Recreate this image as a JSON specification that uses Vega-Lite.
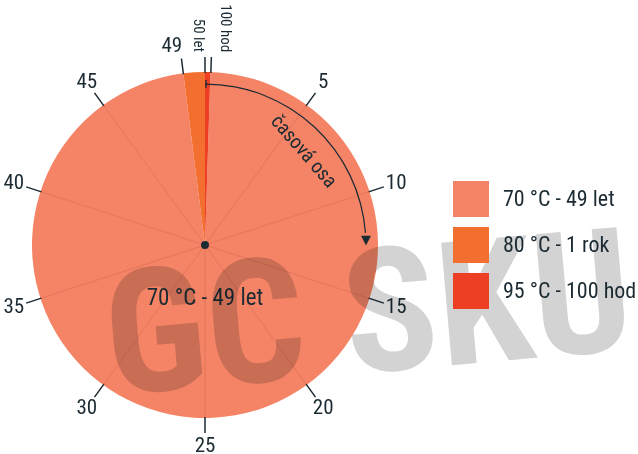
{
  "$schema": "https://vega.github.io/schema/vega-lite/v6.json",
  "width": 410,
  "height": 490,
  "padding": {"left": 0, "top": 0, "right": 228, "bottom": 0},
  "autosize": {"type": "none"},
  "background": "white",
  "config": {
    "view": {"stroke": null},
    "font": "Roboto Condensed, Liberation Sans Narrow, Roboto, sans-serif",
    "text": {"font": "Roboto Condensed, Liberation Sans Narrow, Roboto, sans-serif", "color": "#1c2b33"}
  },
  "layer": [
    {
      "data": {"values": [
        {"cat": "70 °C - 49 let", "start": 0.25, "end": 49},
        {"cat": "80 °C - 1 rok", "start": 49, "end": 50},
        {"cat": "95 °C - 100 hod", "start": 0, "end": 0.25}
      ]},
      "mark": {"type": "arc", "radius": 173},
      "encoding": {
        "theta": {"field": "start", "type": "quantitative", "stack": null, "scale": {"domain": [0, 50], "range": [0, 6.283185307]}},
        "theta2": {"field": "end"},
        "color": {
          "field": "cat", "type": "nominal",
          "scale": {"domain": ["70 °C - 49 let", "80 °C - 1 rok", "95 °C - 100 hod"], "range": ["#f58466", "#f26f30", "#ee3e23"]},
          "legend": {
            "title": null, "orient": "none", "legendX": 453, "legendY": 181,
            "symbolType": "square", "symbolSize": 1296, "symbolStrokeWidth": 0, "symbolOpacity": 1,
            "labelFontSize": 22, "labelFont": "Roboto Condensed, Liberation Sans Narrow, Roboto, sans-serif",
            "labelColor": "#1c2b33", "labelOffset": 14, "labelLimit": 300, "rowPadding": 10, "padding": 0, "zindex": -1
          }
        }
      }
    },
    {
      "data": {"values": [
        {"v": 5}, {"v": 10}, {"v": 15}, {"v": 20}, {"v": 25}, {"v": 30}, {"v": 35}, {"v": 40}, {"v": 45}
      ]},
      "mark": {"type": "arc", "radius": 172, "radius2": 0, "fillOpacity": 0, "stroke": "#c8644c", "strokeWidth": 0.5, "strokeOpacity": 0.45},
      "encoding": {
        "theta": {"field": "v", "type": "quantitative", "stack": null, "scale": {"domain": [0, 50], "range": [0, 6.283185307]}},
        "theta2": {"field": "v"}
      }
    },
    {
      "data": {"values": [{"s": 0, "e": 50}]},
      "mark": {"type": "arc", "radius": 4, "fill": "#1c2b33"},
      "encoding": {
        "theta": {"field": "s", "type": "quantitative", "stack": null, "scale": {"domain": [0, 50], "range": [0, 6.283185307]}},
        "theta2": {"field": "e"}
      }
    },
    {
      "data": {"values": [
        {"v": 5}, {"v": 10}, {"v": 15}, {"v": 20}, {"v": 25}, {"v": 30}, {"v": 35}, {"v": 40}, {"v": 45},
        {"v": 49}, {"v": 50}, {"v": 0.27}
      ]},
      "mark": {"type": "arc", "radius": 188, "radius2": 172, "fillOpacity": 0, "stroke": "#1c2b33", "strokeWidth": 1.5},
      "encoding": {
        "theta": {"field": "v", "type": "quantitative", "stack": null, "scale": {"domain": [0, 50], "range": [0, 6.283185307]}},
        "theta2": {"field": "v"}
      }
    },
    {
      "data": {"values": [{"s": 0, "e": 11.9}]},
      "mark": {"type": "arc", "radius": 161.5, "radius2": 160.3, "fill": "#1c2b33"},
      "encoding": {
        "theta": {"field": "s", "type": "quantitative", "stack": null, "scale": {"domain": [0, 50], "range": [0, 6.283185307]}},
        "theta2": {"field": "e"}
      }
    },
    {
      "data": {"values": [{"v": 0.05}]},
      "mark": {"type": "arc", "radius": 165, "radius2": 157, "fillOpacity": 0, "stroke": "#1c2b33", "strokeWidth": 1.3},
      "encoding": {
        "theta": {"field": "v", "type": "quantitative", "stack": null, "scale": {"domain": [0, 50], "range": [0, 6.283185307]}},
        "theta2": {"field": "v"}
      }
    },
    {
      "data": {"values": [{"v": 12.25, "t": "▼"}]},
      "mark": {"type": "text", "radius": 161, "font": "DejaVu Sans", "fontSize": 13, "baseline": "middle", "align": "center", "color": "#1c2b33"},
      "encoding": {
        "theta": {"field": "v", "type": "quantitative", "stack": null, "scale": {"domain": [0, 50], "range": [0, 6.283185307]}},
        "text": {"field": "t"}
      }
    },
    {
      "data": {"values": [
        {"v": 5, "t": "5"}, {"v": 10, "t": "10"}, {"v": 15, "t": "15"}, {"v": 20, "t": "20"}, {"v": 25, "t": "25"},
        {"v": 30, "t": "30"}, {"v": 35, "t": "35"}, {"v": 40, "t": "40"}, {"v": 45, "t": "45"}
      ]},
      "mark": {"type": "text", "radius": 201, "fontSize": 21, "baseline": "middle", "align": "center"},
      "encoding": {
        "theta": {"field": "v", "type": "quantitative", "stack": null, "scale": {"domain": [0, 50], "range": [0, 6.283185307]}},
        "text": {"field": "t"}
      }
    },
    {
      "data": {"values": [{"v": 49, "t": "49"}]},
      "mark": {"type": "text", "radius": 201, "dx": -8, "fontSize": 21, "baseline": "middle", "align": "center"},
      "encoding": {
        "theta": {"field": "v", "type": "quantitative", "stack": null, "scale": {"domain": [0, 50], "range": [0, 6.283185307]}},
        "text": {"field": "t"}
      }
    },
    {
      "data": {"values": [{"v": 50, "t": "50 let"}]},
      "mark": {"type": "text", "radius": 193, "angle": 90, "dy": 6, "fontSize": 15, "baseline": "middle", "align": "right"},
      "encoding": {
        "theta": {"field": "v", "type": "quantitative", "stack": null, "scale": {"domain": [0, 50], "range": [0, 6.283185307]}},
        "text": {"field": "t"}
      }
    },
    {
      "data": {"values": [{"v": 0.27, "t": "100 hod"}]},
      "mark": {"type": "text", "radius": 193, "angle": 90, "dy": -14, "fontSize": 15, "baseline": "middle", "align": "right"},
      "encoding": {
        "theta": {"field": "v", "type": "quantitative", "stack": null, "scale": {"domain": [0, 50], "range": [0, 6.283185307]}},
        "text": {"field": "t"}
      }
    },
    {
      "data": {"values": [{"v": 6.46, "t": "časová osa"}]},
      "mark": {"type": "text", "radius": 136, "angle": 49, "fontSize": 20, "baseline": "middle", "align": "center"},
      "encoding": {
        "theta": {"field": "v", "type": "quantitative", "stack": null, "scale": {"domain": [0, 50], "range": [0, 6.283185307]}},
        "text": {"field": "t"}
      }
    },
    {
      "data": {"values": [{"v": 25, "t": "70 °C - 49 let"}]},
      "mark": {"type": "text", "radius": 53, "fontSize": 23, "baseline": "middle", "align": "center"},
      "encoding": {
        "theta": {"field": "v", "type": "quantitative", "stack": null, "scale": {"domain": [0, 50], "range": [0, 6.283185307]}},
        "text": {"field": "t"}
      }
    },
    {
      "data": {"values": [{"t": "GC SKU"}]},
      "mark": {"type": "text", "font": "Roboto Condensed, Liberation Sans Narrow, Roboto, sans-serif", "fontSize": 173, "fontWeight": "bold", "angle": -5, "align": "center", "baseline": "alphabetic", "color": "#d3d3d3", "blend": "multiply"},
      "encoding": {
        "x": {"value": 373},
        "y": {"value": 372},
        "text": {"field": "t"}
      }
    }
  ]
}
